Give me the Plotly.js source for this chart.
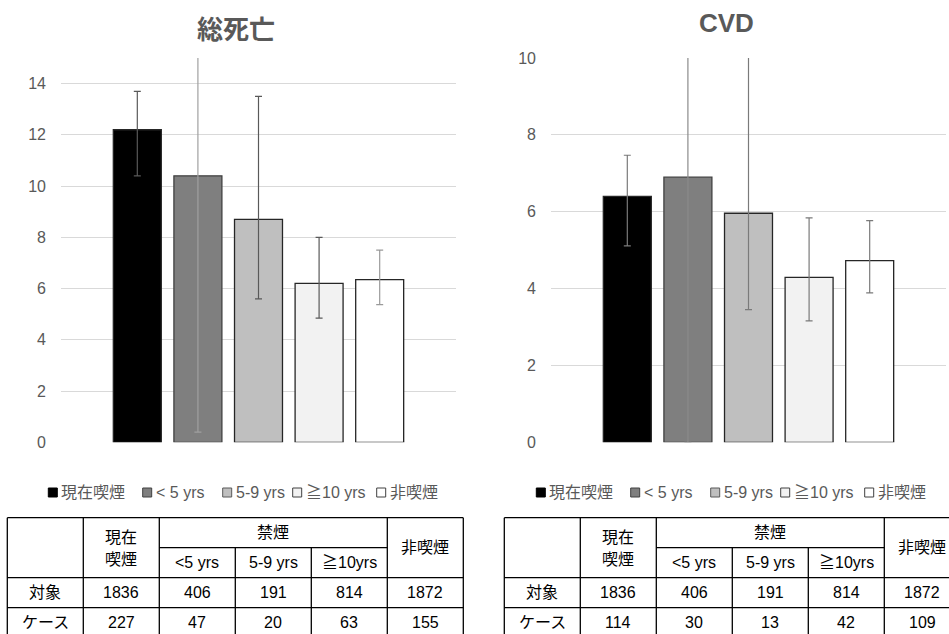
<!DOCTYPE html>
<html>
<head>
<meta charset="utf-8">
<script src="https://cdn.plot.ly/plotly-3.0.1.min.js"></script>
<style>
html,body{margin:0;padding:0;background:#fff;}
#chart{width:949px;height:634px;}
</style>
</head>
<body>
<div id="chart"></div>
<script>
// ---------- data ----------
const categories = ['現在喫煙', '< 5 yrs', '5-9 yrs', '≧10 yrs', '非喫煙'];

const allCauseValue = [12.2, 10.4, 8.7, 6.2, 6.35];
const allCauseUpper = [13.7, 20.0, 13.5, 8.0, 7.5];
const allCauseLower = [10.4, 0.4, 5.6, 4.85, 5.37];

const cvdValue = [6.4, 6.9, 5.96, 4.29, 4.73];
const cvdUpper = [7.47, 13.0, 11.0, 5.84, 5.77];
const cvdLower = [5.11, 0.0, 3.45, 3.16, 3.89];

const chartTitles = ['総死亡', 'CVD'];
const yTicksAllCause = [0, 2, 4, 6, 8, 10, 12, 14];
const yTicksCvd = [0, 2, 4, 6, 8, 10];

// table
const tableHeadCurrent = ['現在', '喫煙'];
const tableHeadQuit = '禁煙';
const tableHeadQuitSub = ['<5 yrs', '5-9 yrs', '≧10yrs'];
const tableHeadNever = '非喫煙';
const tableRowLabels = ['対象', 'ケース'];
const subjectsCount = [1836, 406, 191, 814, 1872];
const casesAllCause = [227, 47, 20, 63, 155];
const casesCvd = [114, 30, 13, 42, 109];

// ---------- styles ----------
const W = 949, H = 634;
const fillColors = ['#000000', '#7f7f7f', '#bfbfbf', '#f2f2f2', '#ffffff'];
const lineColors = ['#262626', '#404040', '#262626', '#262626', '#262626'];
const errColorsLeft = ['#595959', '#a0a0a0', '#595959', '#595959', '#9a9a9a'];
const errColorsRight = ['#7a7a7a', '#8a8a8a', '#7a7a7a', '#7a7a7a', '#7a7a7a'];
const legendBorder = ['#000000', '#404040', '#595959', '#404040', '#404040'];
const FONT = '"Liberation Sans", Arial, "Noto Sans CJK JP", sans-serif';
const px = x => x / W;
const py = y => 1 - y / H;

const traces = [];
function addSeries(values, upper, lower, xa, ya, errColors) {
  categories.forEach((name, i) => {
    traces.push({
      type: 'bar',
      name: name,
      x: ['all'],
      y: [values[i]],
      xaxis: xa, yaxis: ya,
      showlegend: false,
      marker: {color: fillColors[i], line: {color: lineColors[i], width: 1.3}},
      error_y: {
        type: 'data', symmetric: false,
        array: [upper[i] - values[i]],
        arrayminus: [values[i] - lower[i]],
        color: errColors[i], thickness: 1.2, width: 3.5
      },
      hoverinfo: 'y'
    });
  });
}
addSeries(allCauseValue, allCauseUpper, allCauseLower, 'x', 'y', errColorsLeft);
addSeries(cvdValue, cvdUpper, cvdLower, 'x2', 'y2', errColorsRight);

const yDomain = [py(442.3), py(58)];
const yCommon = {
  showline: false, zeroline: false, gridcolor: '#d9d9d9', gridwidth: 1,
  tickfont: {family: FONT, size: 16, color: '#595959'},
  ticks: '', ticklabelstandoff: 14, fixedrange: true
};
const xCommon = {
  type: 'category', showgrid: false, zeroline: false, showline: false,
  showticklabels: false, ticks: '', fixedrange: true
};

const annotations = [];
const shapes = [];

// titles
annotations.push({text: '<b>' + chartTitles[0] + '</b>', x: px(235.5), y: py(30), xref: 'paper', yref: 'paper',
  xanchor: 'center', yanchor: 'middle', showarrow: false, font: {family: FONT, size: 26, color: '#595959'}});
annotations.push({text: '<b>' + chartTitles[1] + '</b>', x: px(726), y: py(22.5), xref: 'paper', yref: 'paper',
  xanchor: 'center', yanchor: 'middle', showarrow: false, font: {family: FONT, size: 26, color: '#595959'}});

// custom legends
const legendMarkerX = [48.3, 142.7, 222.7, 292.7, 376.7];
function addLegend(offset) {
  categories.forEach((name, i) => {
    const x0 = legendMarkerX[i] + offset;
    shapes.push({type: 'rect', xref: 'paper', yref: 'paper',
      x0: px(x0), x1: px(x0 + 9), y0: py(497), y1: py(488),
      fillcolor: fillColors[i], line: {color: legendBorder[i], width: 1}});
    annotations.push({text: name, x: px(x0 + 11), y: py(492.5), xref: 'paper', yref: 'paper',
      xanchor: 'left', yanchor: 'middle', showarrow: false,
      font: {family: FONT, size: 16, color: '#595959'}});
  });
}
addLegend(0);
addLegend(488);

// tables
const colW = 76;
const rowYs = [517.7, 547.7, 577.7, 607.7, 637.7];
function addTable(left, cases) {
  const xs = [];
  for (let i = 0; i <= 6; i++) xs.push(left + i * colW);
  const line = {color: '#000000', width: 1.3};
  const hl = (xa, xb, y) => shapes.push({type: 'line', xref: 'paper', yref: 'paper',
    x0: px(xa), x1: px(xb), y0: py(y), y1: py(y), line: line});
  const vl = (x, ya, yb) => shapes.push({type: 'line', xref: 'paper', yref: 'paper',
    x0: px(x), x1: px(x), y0: py(ya), y1: py(yb), line: line});
  hl(xs[0], xs[6], rowYs[0]);
  hl(xs[2], xs[5], rowYs[1]);
  hl(xs[0], xs[6], rowYs[2]);
  hl(xs[0], xs[6], rowYs[3]);
  hl(xs[0], xs[6], rowYs[4]);
  [0, 1, 2, 5, 6].forEach(k => vl(xs[k], rowYs[0], rowYs[4]));
  [3, 4].forEach(k => vl(xs[k], rowYs[1], rowYs[4]));

  const txt = (t, x, y) => annotations.push({text: String(t), x: px(x), y: py(y), xref: 'paper', yref: 'paper',
    xanchor: 'center', yanchor: 'middle', showarrow: false, font: {family: FONT, size: 16, color: '#000000'}});
  const cx = k => (xs[k] + xs[k + 1]) / 2;
  txt(tableHeadCurrent[0], cx(1), 537.5);
  txt(tableHeadCurrent[1], cx(1), 559.5);
  txt(tableHeadQuit, (xs[2] + xs[5]) / 2, 532.7);
  tableHeadQuitSub.forEach((t, k) => txt(t, cx(2 + k), 562.7));
  txt(tableHeadNever, cx(5), 547.7);
  txt(tableRowLabels[0], cx(0), 592.7);
  txt(tableRowLabels[1], cx(0), 622.7);
  subjectsCount.forEach((v, k) => txt(v, cx(1 + k), 592.7));
  cases.forEach((v, k) => txt(v, cx(1 + k), 622.7));
}
addTable(7.3, casesAllCause);
addTable(504.3, casesCvd);

const layout = {
  width: W, height: H,
  margin: {l: 0, r: 0, t: 0, b: 0},
  paper_bgcolor: '#ffffff', plot_bgcolor: '#ffffff',
  barmode: 'group', bargap: 0.233, bargroupgap: 0.208,
  showlegend: false,
  font: {family: FONT, color: '#595959'},
  xaxis: Object.assign({}, xCommon, {domain: [px(61), px(456)], anchor: 'y'}),
  yaxis: Object.assign({}, yCommon, {domain: yDomain, range: [0, 15], tickvals: yTicksAllCause, anchor: 'x'}),
  xaxis2: Object.assign({}, xCommon, {domain: [px(551), px(946)], anchor: 'y2'}),
  yaxis2: Object.assign({}, yCommon, {domain: yDomain, range: [0, 10], tickvals: yTicksCvd, anchor: 'x2'}),
  annotations: annotations,
  shapes: shapes
};

Plotly.newPlot('chart', traces, layout, {displayModeBar: false, staticPlot: true});
</script>
</body>
</html>
